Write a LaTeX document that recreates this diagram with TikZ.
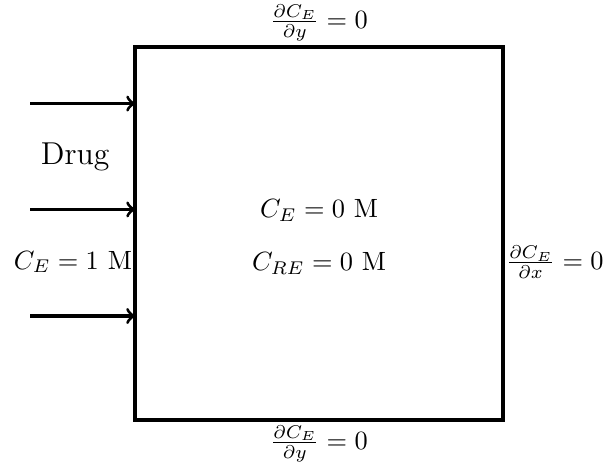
\documentclass[tikz,border=0pt]{standalone}
\usepackage{amsmath}
\usepackage{amssymb}
\usepackage{tikz}
\usetikzlibrary{arrows,positioning}

\begin{document}
\begin{tikzpicture}[wall/.style={line width=1.5pt},flux/.style={line width=1.2pt,->}]
\useasboundingbox (0,0) rectangle (8.06,6.23);

% domain
\coordinate (sw) at (1.80,0.64);
\coordinate (ne) at (6.70,5.61);
\draw[wall] (sw) rectangle (ne);

% inflow arrows
\coordinate (in1) at (0.40,4.85);
\coordinate (in2) at (0.40,3.44);
\coordinate (in3) at (0.40,2.02);
\coordinate (w1) at (1.80,4.85);
\coordinate (w2) at (1.80,3.44);
\coordinate (w3) at (1.80,2.02);
\draw[flux] (in1)--(w1);
\draw[flux] (in2)--(w2);
\draw[flux] (in3)--(w3);
\node[font=\large] (drug) at (1.00,4.14) {Drug};
\node[anchor=east,inner sep=1pt] (inlet) at (1.80,2.74) {$C_E = 1$ M};

% initial values
\node (ce) at (4.25,3.42) {$C_E = 0$ M};
\node (cre) at (4.25,2.72) {$C_{RE} = 0$ M};

% boundary conditions
\node[anchor=south,inner sep=2pt] (top) at (4.25,5.61) {$\frac{\partial C_E}{\partial y} = 0$};
\node[anchor=north,inner sep=2pt] (bottom) at (4.25,0.64) {$\frac{\partial C_E}{\partial y} = 0$};
\node[anchor=west,inner sep=1pt] (right) at (6.70,2.74) {$\frac{\partial C_E}{\partial x} = 0$};
\end{tikzpicture}
\end{document}
